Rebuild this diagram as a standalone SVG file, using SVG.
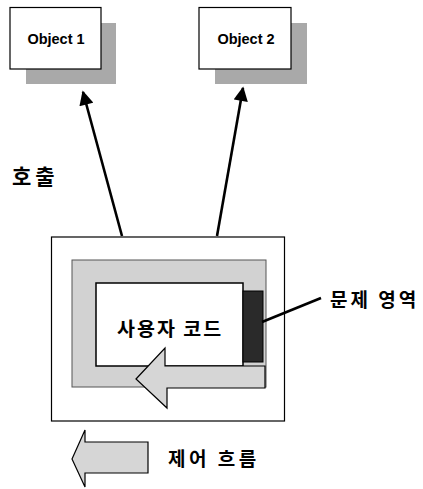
<svg xmlns="http://www.w3.org/2000/svg" width="423" height="489" viewBox="0 0 423 489">
<style>
.box{fill:#fff;stroke:#000;stroke-width:1.2}
.shadow{fill:#a9a9a9}
.lbl{font-family:"Liberation Sans",Arial,sans-serif;font-weight:bold;font-size:14.5px;fill:#000}
.ko{font-family:"Noto Sans CJK KR","Noto Sans",sans-serif;font-weight:bold;fill:#000}
.conn{stroke:#000;stroke-width:2.6;fill:none}
.garrow{fill:#d6d6d6;stroke:#000;stroke-width:1.2;stroke-linejoin:miter}
</style>
<defs>
<marker id="ah" viewBox="0 0 10 10" refX="9" refY="5" markerWidth="6" markerHeight="5.5" orient="auto" markerUnits="strokeWidth">
<path d="M0,0 L10,5 L0,10 z" fill="#000"/>
</marker>
</defs>
<rect width="423" height="489" fill="#fff"/>

<g id="obj1">
<rect class="shadow" x="26" y="23" width="90" height="61"/>
<rect class="box" x="10" y="7.5" width="91" height="61.5"/>
<text class="lbl" x="56" y="44" text-anchor="middle">Object 1</text>
</g>
<g id="obj2">
<rect class="shadow" x="215" y="23" width="92" height="61"/>
<rect class="box" x="199" y="7.5" width="92" height="61.5"/>
<text class="lbl" x="246" y="44" text-anchor="middle">Object 2</text>
</g>

<g id="host">
<rect class="box" x="51.5" y="237" width="233" height="184"/>
</g>
<g id="frame">
<rect x="72" y="260" width="194" height="127" fill="#d2d2d2" stroke="#555" stroke-width="1"/>
</g>
<g id="usercode">
<rect x="96" y="283" width="147" height="83" fill="#fff" stroke="#000" stroke-width="1.5"/>
<text class="ko" x="117" y="336" font-size="19.5" letter-spacing="2">사용자 코드</text>
</g>
<g id="problem">
<rect x="243" y="291" width="20" height="71" fill="#2a2a2a" stroke="#000" stroke-width="1"/>
</g>
<g id="flow-arrow">
<path class="garrow" d="M136,379 L165,348 L165,366 L265,366 L265,388 L167,388 L167,408 Z"/>
</g>

<g id="label-call">
<text class="ko" x="12" y="184" font-size="21" letter-spacing="4">호출</text>
</g>
<g id="label-problem">
<text class="ko" x="330" y="307" font-size="19" letter-spacing="3">문제 영역</text>
</g>
<g id="legend">
<path class="garrow" d="M72,459 L85,430 L85,442 L148,442 L148,473 L85,473 L85,487 Z"/>
<text class="ko" x="168" y="466" font-size="19" letter-spacing="3.5">제어 흐름</text>
</g>

<g id="connectors">
<line class="conn" x1="122" y1="236" x2="83" y2="92" marker-end="url(#ah)"/>
<line class="conn" x1="217" y1="236" x2="243" y2="88" marker-end="url(#ah)"/>
<line class="conn" x1="262" y1="322" x2="321" y2="298"/>
</g>
</svg>
